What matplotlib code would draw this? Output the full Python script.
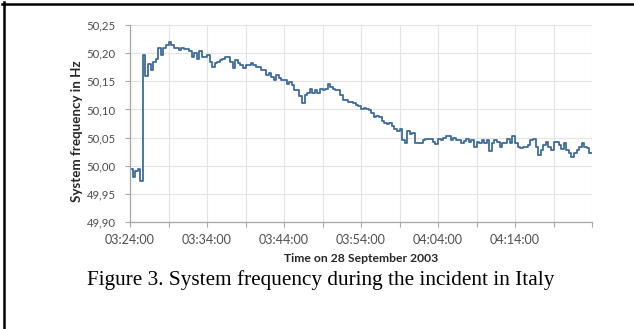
import matplotlib
matplotlib.use("Agg")
import matplotlib.pyplot as plt
import matplotlib.dates as mdates
from matplotlib.lines import Line2D
import pandas as pd

# Frequency samples (Hz), one every 20 s starting 03:24:00 on 28 Sep 2003
start_time = "2003-09-28 03:24:00"
sample_step = "20s"
frequency_hz = [
    49.995, 49.980, 49.990, 49.995, 49.972, 50.197, 50.160, 50.180, 50.170,
    50.185, 50.190, 50.210, 50.197, 50.209, 50.215, 50.219, 50.215, 50.209,
    50.209, 50.206, 50.210, 50.207, 50.207, 50.203, 50.194, 50.200, 50.190,
    50.203, 50.194, 50.194, 50.197, 50.185, 50.176, 50.182, 50.185, 50.188,
    50.190, 50.194, 50.194, 50.185, 50.173, 50.188, 50.182, 50.179, 50.173,
    50.179, 50.179, 50.182, 50.179, 50.175, 50.176, 50.170, 50.170, 50.161,
    50.164, 50.158, 50.152, 50.161, 50.155, 50.152, 50.152, 50.146, 50.149,
    50.143, 50.134, 50.134, 50.123, 50.111, 50.126, 50.130, 50.137, 50.129,
    50.134, 50.130, 50.137, 50.135, 50.137, 50.146, 50.140, 50.137, 50.135,
    50.134, 50.126, 50.117, 50.117, 50.114, 50.114, 50.111, 50.108, 50.106,
    50.100, 50.103, 50.100, 50.099, 50.094, 50.086, 50.088, 50.086, 50.079,
    50.076, 50.074, 50.075, 50.070, 50.065, 50.062, 50.065, 50.046, 50.041,
    50.061, 50.057, 50.059, 50.040, 50.040, 50.041, 50.046, 50.047, 50.048,
    50.047, 50.043, 50.039, 50.048, 50.046, 50.049, 50.052, 50.052, 50.046,
    50.049, 50.046, 50.045, 50.041, 50.044, 50.047, 50.042, 50.045, 50.033,
    50.043, 50.041, 50.045, 50.041, 50.045, 50.027, 50.040, 50.045, 50.043,
    50.034, 50.040, 50.040, 50.047, 50.041, 50.053, 50.041, 50.034, 50.031,
    50.034, 50.034, 50.037, 50.046, 50.047, 50.034, 50.019, 50.028, 50.037,
    50.043, 50.033, 50.028, 50.043, 50.043, 50.037, 50.029, 50.040, 50.028,
    50.022, 50.015, 50.023, 50.028, 50.034, 50.040, 50.033, 50.031, 50.022,
]
y_ticks = [49.90, 49.95, 50.00, 50.05, 50.10, 50.15, 50.20, 50.25]
x_label_times = ["03:24:00", "03:34:00", "03:44:00", "03:54:00", "04:04:00", "04:14:00"]
x_grid_times = ["03:29:00", "03:39:00", "03:49:00", "03:59:00", "04:09:00", "04:19:00", "04:24:00"]
date_str = "2003-09-28"
x_start = "03:24:00"
x_end = "04:24:00"
y_label = "System frequency in Hz"
x_label = "Time on 28 September 2003"
caption = "Figure 3. System frequency during the incident in Italy"

times = pd.date_range(start_time, periods=len(frequency_hz), freq=sample_step)
times_ext = list(times) + [times[-1] + pd.Timedelta(sample_step)]
freq_ext = list(frequency_hz) + [frequency_hz[-1]]

def ts(hms):
    return mdates.date2num(pd.Timestamp(f"{date_str} {hms}"))

plt.rcParams["font.family"] = ["Lato", "DejaVu Sans"]

fig = plt.figure(figsize=(6.34, 3.29), dpi=100)
fig.patch.set_facecolor("white")
ax = fig.add_axes([130 / 634, 1 - 222 / 329, 462 / 634, 197 / 329])

ax.plot(times_ext, freq_ext, drawstyle="steps-post", color="#3e6b9a", lw=1.3)

ax.set_xlim(ts(x_start), ts(x_end))
ax.set_ylim(y_ticks[0], y_ticks[-1])
ax.set_yticks(y_ticks)
ax.set_yticklabels([f"{v:.2f}".replace(".", ",") for v in y_ticks])

ax.set_xticks([ts(t) for t in x_label_times])
ax.set_xticklabels(x_label_times)
ax.set_xticks([ts(t) for t in x_grid_times], minor=True)

ax.grid(True, which="both", color="#e3e3e3", lw=0.8)
ax.set_axisbelow(True)
for s in ["top", "right"]:
    ax.spines[s].set_visible(False)
for s in ["left", "bottom"]:
    ax.spines[s].set_color("#a6a6a6")
    ax.spines[s].set_linewidth(0.9)

ax.tick_params(axis="both", which="both", color="#a6a6a6", length=3.5, width=0.8,
               labelcolor="#4d4d4d")
ax.tick_params(axis="x", pad=5, labelsize=9)
ax.tick_params(axis="y", pad=7, labelsize=8.2)

fig.text(77 / 634, 1 - 131 / 329, y_label, rotation=90, ha="center", va="center",
         fontsize=9.6, fontweight="bold", color="#262626")
fig.text(361 / 634, 1 - 258 / 329, x_label, ha="center", va="center",
         fontsize=8.7, fontweight="bold", color="#262626")
fig.text(321 / 634, 1 - 280 / 329, caption, ha="center", va="center",
         fontsize=15.3, color="black", family=["Liberation Serif", "DejaVu Serif"])

# frame lines (top and left) of the figure box
fig.add_artist(Line2D([2 / 634, 1], [1 - 3.5 / 329, 1 - 3.5 / 329],
                      transform=fig.transFigure, color="black", lw=1.8))
fig.add_artist(Line2D([3.5 / 634, 3.5 / 634], [0, 1 - 2 / 329],
                      transform=fig.transFigure, color="black", lw=1.8))

fig.savefig("out.png", dpi=100)
